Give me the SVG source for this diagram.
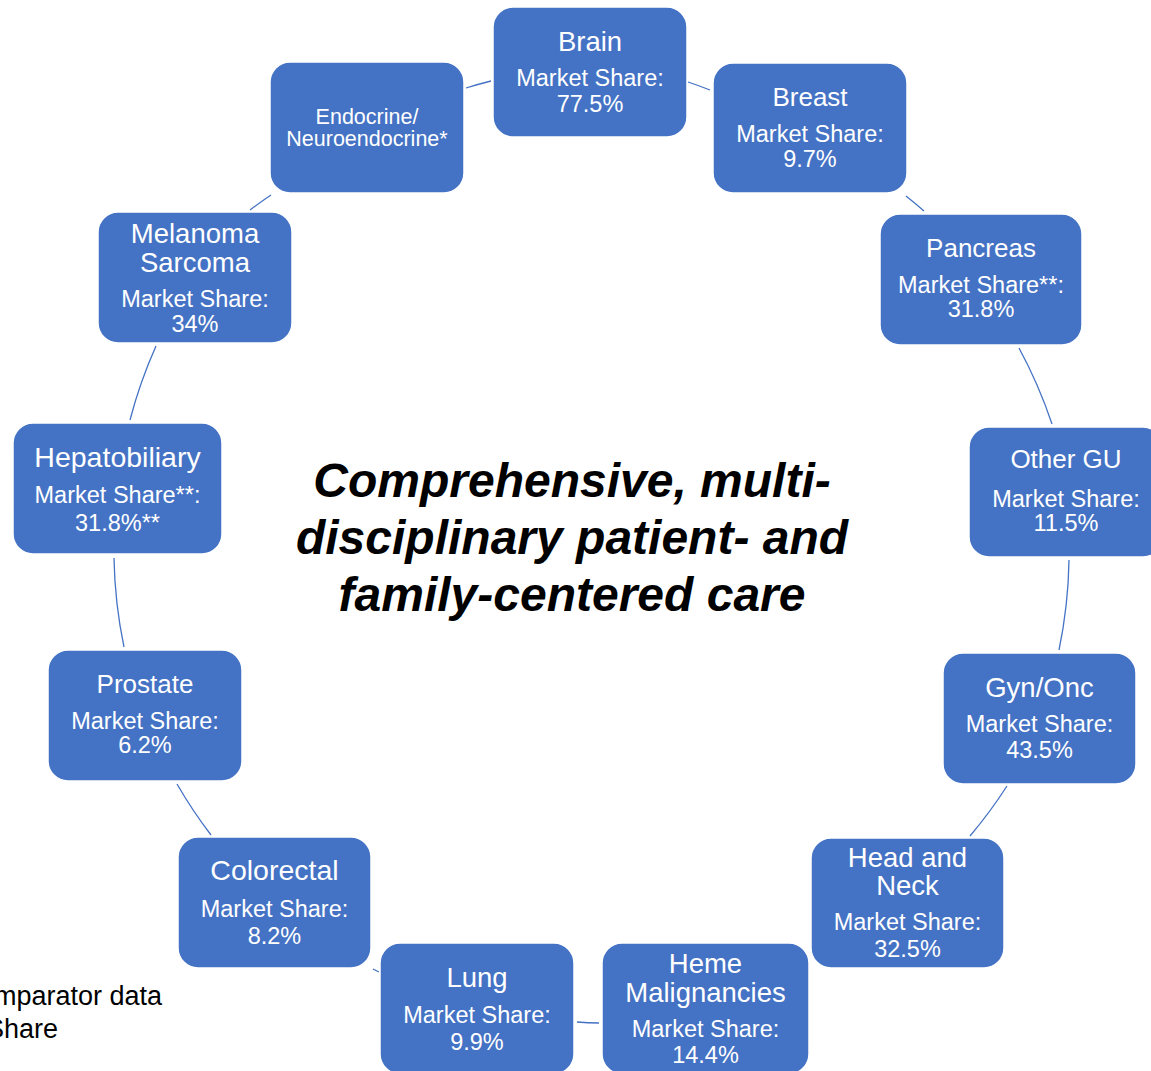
<svg xmlns="http://www.w3.org/2000/svg" width="1151" height="1071" viewBox="0 0 1151 1071">
<style>
.box{fill:#4472C4;stroke:#ffffff;stroke-width:1.5}
.t{font-family:"Liberation Sans",Arial,sans-serif;fill:#ffffff;text-anchor:middle}
.ms{font-size:23.5px}
.conn{fill:none;stroke:#4472C4;stroke-width:1.3}
.center{font-family:"Liberation Sans",Arial,sans-serif;font-weight:bold;font-style:italic;font-size:48px;fill:#000;text-anchor:middle}
.foot{font-family:"Liberation Sans",Arial,sans-serif;font-size:27px;fill:#000;text-anchor:end}
</style>
<rect width="1151" height="1071" fill="#ffffff"/>
<g id="connectors">
<path class="conn" d="M688,82 A476,476 0 0 1 710,90"/>
<path class="conn" d="M906,196 A476,476 0 0 1 924,211"/>
<path class="conn" d="M1019,348 A476,476 0 0 1 1052,424"/>
<path class="conn" d="M1069,560 A476,476 0 0 1 1059,650"/>
<path class="conn" d="M1007,786 A476,476 0 0 1 970,836"/>
<path class="conn" d="M599,1023 A476,476 0 0 1 577,1022"/>
<path class="conn" d="M379,972 A476,476 0 0 1 373,969"/>
<path class="conn" d="M211,835 A476,476 0 0 1 177,784"/>
<path class="conn" d="M124,647 A476,476 0 0 1 114,558"/>
<path class="conn" d="M130,420 A476,476 0 0 1 156,346"/>
<path class="conn" d="M250,210 A476,476 0 0 1 271,195"/>
<path class="conn" d="M466,88 A476,476 0 0 1 491,81"/>
</g>
<g id="brain">
<rect class="box" x="493" y="7" width="194" height="130" rx="20"/>
<text class="t" x="590" y="51" font-size="27.5">Brain</text>
<text class="t ms" x="590" y="86">Market Share:</text>
<text class="t ms" x="590" y="112">77.5%</text>
</g>
<g id="breast">
<rect class="box" x="713" y="63" width="194" height="130" rx="20"/>
<text class="t" x="810" y="106" font-size="26">Breast</text>
<text class="t ms" x="810" y="142">Market Share:</text>
<text class="t ms" x="810" y="167">9.7%</text>
</g>
<g id="pancreas">
<rect class="box" x="880" y="214" width="202" height="131" rx="20"/>
<text class="t" x="981" y="257" font-size="26">Pancreas</text>
<text class="t ms" x="981" y="293">Market Share**:</text>
<text class="t ms" x="981" y="317">31.8%</text>
</g>
<g id="other-gu">
<rect class="box" x="969" y="427" width="194" height="130" rx="20"/>
<text class="t" x="1066" y="468" font-size="26">Other GU</text>
<text class="t ms" x="1066" y="507">Market Share:</text>
<text class="t ms" x="1066" y="531">11.5%</text>
</g>
<g id="gyn-onc">
<rect class="box" x="943" y="653" width="193" height="131" rx="20"/>
<text class="t" x="1039.5" y="697" font-size="27.5">Gyn/Onc</text>
<text class="t ms" x="1039.5" y="732">Market Share:</text>
<text class="t ms" x="1039.5" y="758">43.5%</text>
</g>
<g id="head-neck">
<rect class="box" x="811" y="838" width="193" height="130" rx="20"/>
<text class="t" x="907.5" y="867" font-size="27.5">Head and</text>
<text class="t" x="907.5" y="895" font-size="27.5">Neck</text>
<text class="t ms" x="907.5" y="930">Market Share:</text>
<text class="t ms" x="907.5" y="957">32.5%</text>
</g>
<g id="heme">
<rect class="box" x="602" y="943" width="207" height="131" rx="20"/>
<text class="t" x="705.5" y="973" font-size="27.5">Heme</text>
<text class="t" x="705.5" y="1002" font-size="27.5">Malignancies</text>
<text class="t ms" x="705.5" y="1037">Market Share:</text>
<text class="t ms" x="705.5" y="1063">14.4%</text>
</g>
<g id="lung">
<rect class="box" x="380" y="943" width="194" height="131" rx="20"/>
<text class="t" x="477" y="987" font-size="27.5">Lung</text>
<text class="t ms" x="477" y="1023">Market Share:</text>
<text class="t ms" x="477" y="1050">9.9%</text>
</g>
<g id="colorectal">
<rect class="box" x="178" y="837" width="193" height="131" rx="20"/>
<text class="t" x="274.5" y="880" font-size="28.5">Colorectal</text>
<text class="t ms" x="274.5" y="917">Market Share:</text>
<text class="t ms" x="274.5" y="944">8.2%</text>
</g>
<g id="prostate">
<rect class="box" x="48" y="650" width="194" height="131" rx="20"/>
<text class="t" x="145" y="693" font-size="26">Prostate</text>
<text class="t ms" x="145" y="729">Market Share:</text>
<text class="t ms" x="145" y="753">6.2%</text>
</g>
<g id="hepatobiliary">
<rect class="box" x="13" y="423" width="209" height="131" rx="20"/>
<text class="t" x="117.5" y="467" font-size="28.5">Hepatobiliary</text>
<text class="t ms" x="117.5" y="503">Market Share**:</text>
<text class="t ms" x="117.5" y="531">31.8%**</text>
</g>
<g id="melanoma">
<rect class="box" x="98" y="212" width="194" height="131" rx="20"/>
<text class="t" x="195" y="243" font-size="27.5">Melanoma</text>
<text class="t" x="195" y="272" font-size="27.5">Sarcoma</text>
<text class="t ms" x="195" y="307">Market Share:</text>
<text class="t ms" x="195" y="332">34%</text>
</g>
<g id="endocrine">
<rect class="box" x="270" y="62" width="194" height="131" rx="20"/>
<text class="t" x="367" y="124" font-size="21.5">Endocrine/</text>
<text class="t" x="367" y="146" font-size="21.5">Neuroendocrine*</text>
</g>
<g id="center-text">
<text class="center" x="572" y="497">Comprehensive, multi-</text>
<text class="center" x="572" y="554">disciplinary patient- and</text>
<text class="center" x="572" y="611">family-centered care</text>
</g>
<g id="footnote">
<text class="foot" x="162" y="1005">mparator data</text>
<text class="foot" x="58" y="1038">Share</text>
</g>
</svg>
